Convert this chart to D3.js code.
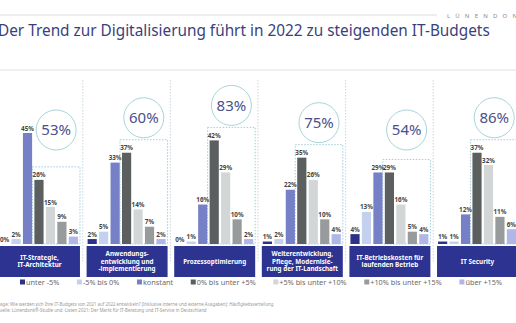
<!DOCTYPE html>
<html>
<head>
<meta charset="utf-8">
<script src="https://cdn.jsdelivr.net/npm/d3@7"></script>
<style>
  body { margin: 0; background: #fff; }
  svg { display: block; font-family: "Noto Sans", "Open Sans", sans-serif; }
</style>
</head>
<body>
<script>
// Kategorien (Zeilenumbruch mit "|")
var categories = [
    "IT-Strategie,|IT-Architektur",
    "Anwendungs-|entwicklung und|-implementierung",
    "Prozessoptimierung",
    "Weiterentwicklung,|Pflege, Modernisie-|rung der IT-Landschaft",
    "IT-Betriebskosten für|laufenden Betrieb",
    "IT Security"
];

var seriesNames = ["unter -5%", "-5% bis 0%", "konstant", "0% bis unter +5%",
    "+5% bis unter +10%", "+10% bis unter +15%", "über +15%"];

// Anteile je Kategorie, in Reihenfolge der seriesNames
var itStrategie       = [0, 2, 45, 26, 15, 9, 3];
var anwendungen       = [2, 5, 33, 37, 14, 7, 2];
var prozesse          = [0, 1, 16, 42, 29, 10, 2];
var weiterentwicklung = [1, 2, 22, 35, 26, 10, 4];
var betriebskosten    = [4, 13, 29, 29, 16, 5, 4];
var security          = [1, 1, 12, 37, 32, 11, 6];
var values = [itStrategie, anwendungen, prozesse, weiterentwicklung, betriebskosten, security];

// Summe steigender Budgets (Kreis-Werte)
var growthTotals = [53, 60, 83, 75, 54, 86];

var titleText = "Der Trend zur Digitalisierung führt in 2022 zu steigenden IT-Budgets";
var footerLines = [
    "Frage: Wie werden sich Ihre IT-Budgets von 2021 auf 2022 entwickeln? (Inklusive interne und externe Ausgaben); Häufigkeitsverteilung",
    "Quelle: Lünendonk®-Studie und -Listen 2021: Der Markt für IT-Beratung und IT-Service in Deutschland"
];

var width = 516,
    height = 323;

var baseline = 244;

var color = d3.scaleOrdinal()
    .domain(seriesNames)
    .range(["#2b3388", "#c3d1ee", "#7580c6", "#5b5f60", "#d3d6d7", "#989b9c", "#b0b7e6"]);

var svg = d3.select("body").append("svg")
    .attr("width", width)
    .attr("height", height);

// Kopfzeile
svg.append("line")
    .attr("x1", 0).attr("x2", 437)
    .attr("y1", 15).attr("y2", 15)
    .style("stroke", "#dcdcdc").style("stroke-width", 1);

svg.append("text")
    .attr("x", 447).attr("y", 17.5)
    .attr("font-size", 6)
    .attr("letter-spacing", 5.2)
    .attr("fill", "#8a8a8a")
    .text("LÜNENDONK");

var title = svg.append("text")
    .attr("x", -2).attr("y", 36)
    .attr("font-size", 16)
    .attr("fill", "#3a3f7c")
    .text(titleText);
// Schriftgröße so wählen, dass der Titel bei x ~ 490 endet
title.attr("font-size", 16 * 492 / title.node().getComputedTextLength());

svg.append("line")
    .attr("x1", 0).attr("x2", width)
    .attr("y1", 70).attr("y2", 70)
    .style("stroke", "#e2e2e2").style("stroke-width", 1.2);

// Skalen
var x0 = d3.scaleBand()
    .domain(d3.range(categories.length))
    .range([0, width])
    .paddingInner(0.11)
    .paddingOuter(0);

var x1 = d3.scaleBand()
    .domain(seriesNames)
    .range([0, x0.bandwidth()])
    .paddingInner(0.2);

var y = d3.scaleLinear()
    .domain([0, 45])
    .range([baseline, 133]);

// Trennlinien
svg.selectAll("line.sep")
    .data(d3.range(1, categories.length))
    .enter()
    .append("line")
    .attr("class", "sep")
    .attr("x1", function (i) { return x0(i) - (x0.step() - x0.bandwidth()) / 2; })
    .attr("x2", function (i) { return x0(i) - (x0.step() - x0.bandwidth()) / 2; })
    .attr("y1", 80).attr("y2", 262)
    .style("stroke", "#c9d7df")
    .style("stroke-dasharray", "1.5,1.5");

var groups = svg.selectAll("g.group")
    .data(values)
    .enter()
    .append("g")
    .attr("class", "group")
    .attr("transform", function (d, i) { return "translate(" + x0(i) + ",0)"; });

// gestrichelter Rahmen um die steigenden Werte
groups.append("rect")
    .attr("x", x1(seriesNames[3]) - 2)
    .attr("width", x1(seriesNames[6]) + x1.bandwidth() - x1(seriesNames[3]) + 4)
    .attr("y", function (d) { return y(d3.max(d.slice(3))) - 13; })
    .attr("height", function (d) { return baseline - y(d3.max(d.slice(3))) + 13; })
    .style("fill", "none")
    .style("stroke", "#a3cdd9")
    .style("stroke-width", 1)
    .style("stroke-dasharray", "1.5,1.5");

groups.selectAll("rect.bar")
    .data(function (d) { return d.map(function (v, j) { return { key: seriesNames[j], value: v }; }); })
    .enter()
    .append("rect")
    .attr("class", "bar")
    .attr("x", function (d) { return x1(d.key); })
    .attr("width", x1.bandwidth())
    .attr("y", function (d) { return y(d.value); })
    .attr("height", function (d) { return baseline - y(d.value); })
    .style("fill", function (d) { return color(d.key); });

groups.selectAll("text.val")
    .data(function (d) { return d.map(function (v, j) { return { key: seriesNames[j], value: v }; }); })
    .enter()
    .append("text")
    .attr("class", "val")
    .attr("x", function (d) { return x1(d.key) + x1.bandwidth() / 2; })
    .attr("y", function (d) { return y(d.value) - 2.5; })
    .attr("text-anchor", "middle")
    .attr("font-size", 6.3)
    .attr("font-weight", "bold")
    .attr("fill", "#444")
    .text(function (d) { return d.value + "%"; });

// Kreise mit Summe
var circleX = (x1(seriesNames[3]) + x1(seriesNames[6]) + x1.bandwidth()) / 2;

var bubble = groups.append("g")
    .attr("transform", function (d) {
        var top = y(d3.max(d.slice(3))) - 13;
        return "translate(" + circleX + "," + Math.min(top - 22, 130) + ")";
    });

bubble.append("circle")
    .attr("r", 20)
    .style("fill", "#fff")
    .style("stroke", "#a9d4d7")
    .style("stroke-width", 1);

bubble.append("text")
    .attr("text-anchor", "middle")
    .attr("dy", "0.36em")
    .attr("font-size", 15)
    .attr("fill", "#4a4f8c")
    .text(function (d, i) { return growthTotals[i] + "%"; });

// Kategorie-Kästen
groups.append("rect")
    .attr("x", -1)
    .attr("width", x0.bandwidth() + 3)
    .attr("y", 246)
    .attr("height", 31)
    .style("fill", "#2d3390");

groups.append("text")
    .attr("text-anchor", "middle")
    .attr("font-size", 6.3)
    .attr("font-weight", "bold")
    .attr("fill", "#fff")
    .each(function (d, i) {
        var lines = categories[i].split("|");
        var t = d3.select(this);
        var y0 = 263.5 - (lines.length - 1) * 3.7;
        lines.forEach(function (l, k) {
            var span = t.append("tspan")
                .attr("x", x0.bandwidth() / 2 + 0.5)
                .attr("y", y0 + k * 7.4)
                .text(l);
            // zu breite Zeilen leicht stauchen
            var w = span.node().getComputedTextLength();
            if (w > x0.bandwidth() - 2) {
                span.attr("textLength", x0.bandwidth() - 2).attr("lengthAdjust", "spacingAndGlyphs");
            }
        });
    });

// Legende: zwischen x = 20 und x = 502 verteilt
var legend = svg.append("g").attr("transform", "translate(20,285)");
var items = seriesNames.map(function (name) {
    var t = legend.append("text")
        .attr("font-size", 7.3)
        .attr("fill", "#6a6a6a")
        .text(name);
    return { name: name, text: t, w: t.node().getComputedTextLength() };
});
var totalW = d3.sum(items, function (d) { return d.w + 6; });
var gap = (482 - totalW) / (items.length - 1);
var lx = 0;
items.forEach(function (d) {
    legend.append("rect")
        .attr("x", lx).attr("y", -5.5)
        .attr("width", 5).attr("height", 5)
        .style("fill", color(d.name));
    d.text.attr("x", lx + 6);
    lx += 6 + d.w + gap;
});

svg.selectAll("text.foot")
    .data(footerLines)
    .enter()
    .append("text")
    .attr("class", "foot")
    .attr("x", -4)
    .attr("y", function (d, i) { return 306 + i * 6; })
    .attr("font-size", 4.4)
    .attr("fill", "#999")
    .text(function (d) { return d; });
</script>
</body>
</html>
